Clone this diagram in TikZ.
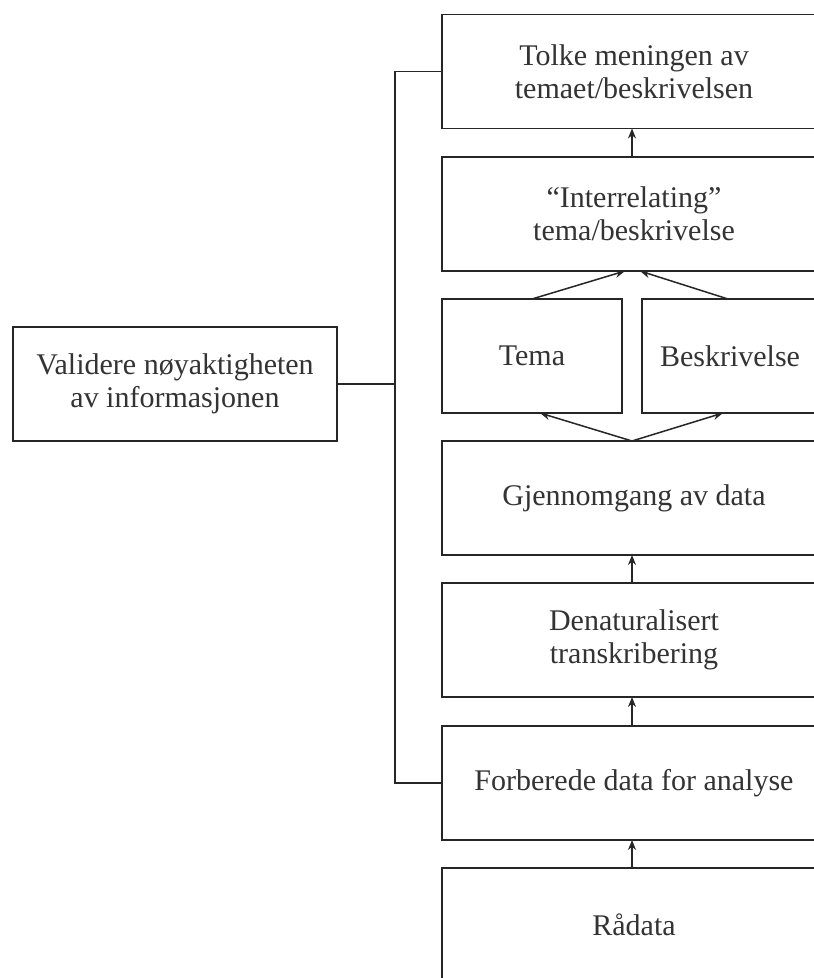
\documentclass[tikz,border=0pt]{standalone}
\usepackage{fontspec}
\setmainfont{Liberation Serif}
\usetikzlibrary{arrows.meta}
\begin{document}
\begin{tikzpicture}[x=1pt,y=-1pt,
  stepbox/.style={draw=black!85, line width=1.5pt, rectangle, align=center,
    inner sep=0pt, outer sep=0pt, minimum height=114pt,
    font=\fontsize{30}{33}\selectfont, text=black!80},
  link/.style={draw=black!85, line width=1.5pt},
  flow/.style={link, -{Stealth[length=10pt,width=8pt]}}]
\useasboundingbox (0,0) rectangle (814,978);
\fill[white] (0,0) rectangle (814,978);
\begin{scope}
\clip (0,0) rectangle (814,978);
% main column
\node[stepbox, minimum width=384pt] (tolke) at (634,71.5) {Tolke meningen av\\temaet/beskrivelsen};
\node[stepbox, minimum width=384pt] (inter) at (634,214) {``Interrelating''\\tema/beskrivelse};
\node[stepbox, minimum width=180pt] (tema) at (532,356) {Tema};
\node[stepbox, minimum width=176pt] (beskr) at (730,356) {Beskrivelse};
\node[stepbox, minimum width=384pt] (gjenn) at (634,498) {Gjennomgang av data};
\node[stepbox, minimum width=384pt] (denat) at (634,640) {Denaturalisert\\transkribering};
\node[stepbox, minimum width=384pt] (forb) at (634,783) {Forberede data for analyse};
\node[stepbox, minimum width=384pt] (raa) at (634,925) {Rådata};
% side box
\node[stepbox, minimum width=324pt] (valid) at (175,384) {Validere nøyaktigheten\\av informasjonen};
% upward flow
\draw[flow] ([xshift=-2pt]raa.north) -- ([xshift=-2pt]forb.south);
\draw[flow] ([xshift=-2pt]forb.north) -- ([xshift=-2pt]denat.south);
\draw[flow] ([xshift=-2pt]denat.north) -- ([xshift=-2pt]gjenn.south);
\draw[flow] ([xshift=-2pt]gjenn.north) -- ([xshift=8pt]tema.south);
\draw[flow] ([xshift=-2pt]gjenn.north) -- ([xshift=-7pt]beskr.south);
\draw[flow] (tema.north) -- ([xshift=-9pt]inter.south);
\draw[flow] ([xshift=-2pt]beskr.north) -- ([xshift=6pt]inter.south);
\draw[flow] ([xshift=-2pt]inter.north) -- ([xshift=-2pt]tolke.south);
% validation bracket
\coordinate (bus) at (395,384);
\draw[link] (valid.east) -- (bus);
\draw[link] (tolke.west) -| (bus) |- (forb.west);
\end{scope}
\end{tikzpicture}
\end{document}
